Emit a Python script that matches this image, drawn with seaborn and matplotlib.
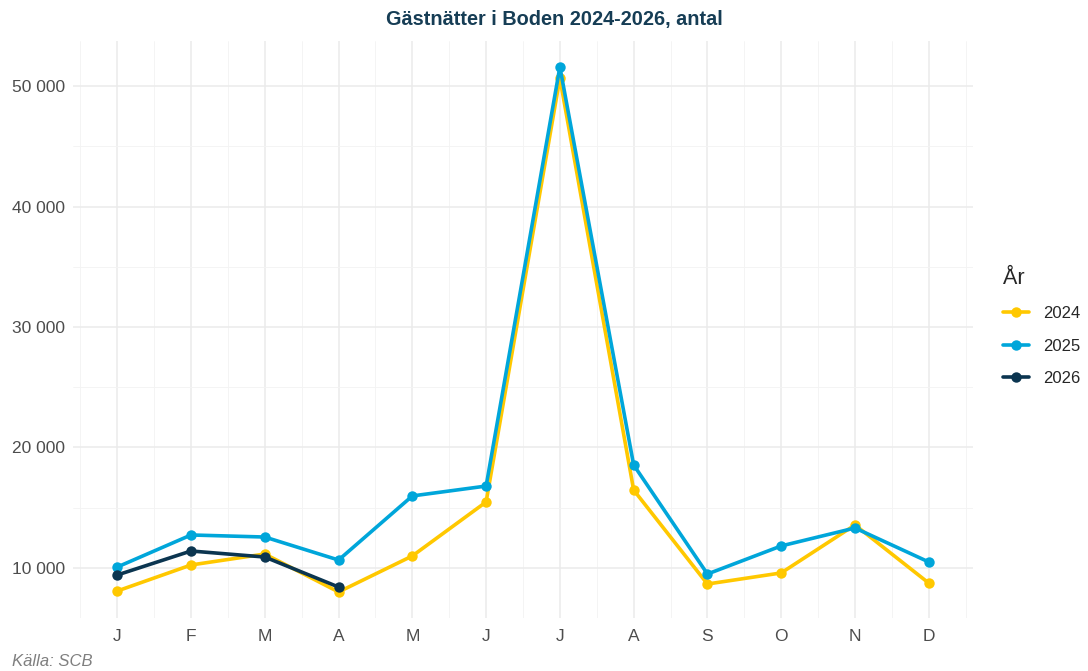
import matplotlib
matplotlib.use("Agg")
import matplotlib.pyplot as plt
import seaborn as sns
import pandas as pd
import numpy as np
from matplotlib.ticker import FuncFormatter

months = ["J", "F", "M", "A", "M", "J", "J", "A", "S", "O", "N", "D"]
v2024 = [8090, 10250, 11160, 8010, 11000, 15480, 50660, 16470, 8670, 9590, 13570, 8750]
v2025 = [10080, 12740, 12570, 10660, 15980, 16800, 51580, 18550, 9500, 11830, 13320, 10500]
v2026 = [9420, 11410, 10910, 8420]
years = ["2024", "2025", "2026"]
colors = {"2024": "#FFC800", "2025": "#00A6DA", "2026": "#0B3550"}

rows = []
for y, vals in zip(years, [v2024, v2025, v2026]):
    for i, v in enumerate(vals):
        rows.append({"Månad": i + 1, "Antal": v, "År": y})
df = pd.DataFrame(rows)

sns.set_theme(style="whitegrid")
plt.rcParams['font.family'] = ['Liberation Sans', 'DejaVu Sans']

fig = plt.figure(figsize=(10.88, 6.71), dpi=100)
ax = fig.add_axes([73/1088, 53/671, 900/1088, 577/671])

sns.lineplot(data=df, x="Månad", y="Antal", hue="År", palette=colors,
             marker="o", markersize=7.5, markeredgewidth=0, linewidth=2.6, ax=ax)

ax.set_xticks(range(1, 13))
ax.set_xticklabels(months)
ax.set_xticks(np.arange(0.5, 13, 1), minor=True)
ax.set_yticks(np.arange(10000, 60000, 10000))
ax.set_yticks(np.arange(5000, 60000, 10000), minor=True)
ax.yaxis.set_major_formatter(FuncFormatter(lambda v, p: f"{int(v):,}".replace(",", " ")))
ax.set_xlim(0.4, 12.6)
ax.set_ylim(5850, 53735)
ax.grid(which="major", color="#EBEBEB", linewidth=1.1)
ax.grid(which="minor", color="#F3F3F3", linewidth=0.6)
for s in ax.spines.values():
    s.set_visible(False)
ax.tick_params(axis="both", which="both", length=0, labelsize=12.5, labelcolor="#4D4D4D")
ax.tick_params(axis="x", pad=8)
ax.tick_params(axis="y", pad=6)
ax.set_xlabel("")
ax.set_ylabel("")

fig.text(554/1088, 1 - 19/671, "Gästnätter i Boden 2024-2026, antal", ha="center", va="center",
         fontsize=14.3, fontweight="bold", color="#163D55")
fig.text(12/1088, 1 - 661/671, "Källa: SCB", ha="left", va="center", fontsize=12,
         style="italic", color="#7F7F7F")

leg = ax.legend(title="År", loc="upper left", bbox_to_anchor=(996/1088, 1 - 261/671),
                bbox_transform=fig.transFigure, frameon=False, fontsize=12,
                title_fontsize=15.5, handlelength=1.6, labelspacing=1.05, handletextpad=0.8,
                borderaxespad=0, borderpad=0.4)
leg._legend_box.align = "left"

fig.savefig("out.png", dpi=100)
